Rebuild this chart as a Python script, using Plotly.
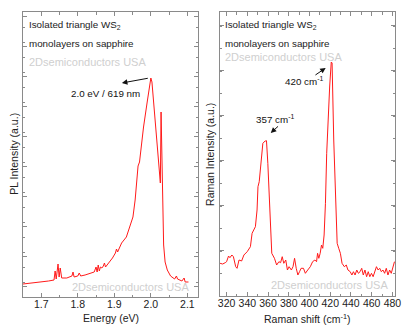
import plotly.graph_objects as go

# ---------------- data ----------------
pl_energy = [1.650, 1.680, 1.700, 1.720, 1.735, 1.738, 1.741, 1.746, 1.749, 1.752, 1.756,
             1.770, 1.784, 1.787, 1.790, 1.800, 1.804, 1.808, 1.820, 1.835, 1.845, 1.850,
             1.853, 1.856, 1.859, 1.862, 1.866, 1.870, 1.873, 1.876, 1.885, 1.895, 1.903,
             1.906, 1.909, 1.920, 1.933, 1.945, 1.951, 1.957, 1.962, 1.965, 1.969, 1.975,
             1.980, 1.990, 1.996, 2.000, 2.003, 2.008, 2.014, 2.020, 2.024, 2.026, 2.028,
             2.030, 2.032, 2.035, 2.039, 2.045, 2.054, 2.065, 2.070, 2.073, 2.085, 2.091,
             2.094, 2.103]
pl_intensity = [13, 14, 15, 16, 17, 26, 18, 33, 20, 29, 19,
                19, 21, 25, 20, 21, 24, 21, 22, 24, 25, 30,
                25, 32, 26, 30, 29, 31, 34, 30, 34, 39, 44,
                48, 45, 54, 60, 73, 80, 97, 120, 131, 135, 155,
                170, 195, 210, 219, 215, 192, 162, 135, 117, 114, 185,
                147, 82, 52, 35, 27, 21, 18, 21, 18, 16, 19,
                15, 15]

raman_shift = [313.7, 316.2, 318.7, 320.0, 321.9, 323.2, 325.1, 326.6, 328.8, 330.1, 332.0,
               334.5, 336.7, 339.9, 343.0, 344.6, 346.2, 347.8, 349.4, 350.3, 351.5, 353.4,
               355.0, 357.2, 358.5, 359.8, 361.0, 362.4, 363.6, 366.2, 368.3, 370.5, 372.1,
               373.7, 375.2, 377.1, 378.7, 380.3, 382.5, 384.1, 385.6, 387.2, 388.8, 390.4,
               391.9, 394.2, 396.0, 398.3, 400.8, 403.0, 405.2, 406.8, 407.8, 409.0, 410.3,
               411.6, 412.8, 414.1, 415.4, 416.6, 417.9, 419.5, 421.0, 421.8, 423.4, 425.1,
               426.7, 428.2, 429.8, 431.4, 433.6, 435.5, 437.1, 439.3, 440.9, 442.4, 444.0,
               445.6, 447.2, 448.8, 450.4, 451.9, 453.5, 455.1, 456.7, 458.2, 459.8, 461.4,
               463.0, 464.6, 466.2, 467.8, 469.3, 470.9, 472.5, 474.1, 475.7, 477.3, 478.9,
               480.4, 482.0]
raman_intensity = [32.7, 32, 33.3, 34.3, 40, 38.3, 41, 39.3, 29.3, 27.7, 36,
                   35, 41, 44.3, 49.3, 62.7, 66, 69.3, 86, 109.3, 114.3, 136,
                   152.7, 155, 155.3, 132.7, 99.3, 62.7, 42.7, 37.7, 31, 34.3, 33.3,
                   39.3, 32.7, 36, 26, 29.3, 26, 29.3, 37.7, 27.7, 21, 24.3,
                   27.7, 27.7, 22.7, 26, 29.3, 34.3, 36, 34.3, 42.7, 37.7, 42.7,
                   51, 47.7, 61, 92.7, 142.7, 176, 210, 234, 233, 156, 92.7,
                   52.7, 47.7, 42.7, 32.7, 29.3, 31, 26, 24.3, 21, 24.3, 21,
                   26, 22.7, 24.3, 27.7, 21, 26, 19.3, 24.3, 19.3, 22.7, 19.3,
                   24.3, 29.3, 26, 27.7, 24.3, 26, 22.7, 27.7, 21, 26, 22.7,
                   27.7, 34.3]

pl_ticks = [1.7, 1.8, 1.9, 2.0, 2.1]
raman_ticks = [320, 340, 360, 380, 400, 420, 440, 460, 480]

# ---------------- figure ----------------
FONT = "Liberation Sans, Arial, sans-serif"
AXC = "#8a8a8a"
W, H = 417, 331

fig = go.Figure()
fig.add_trace(go.Scatter(x=pl_energy, y=pl_intensity, mode="lines",
                         line=dict(color="#ff1a1a", width=1), xaxis="x", yaxis="y",
                         showlegend=False, hoverinfo="skip"))
fig.add_trace(go.Scatter(x=raman_shift, y=raman_intensity, mode="lines",
                         line=dict(color="#ff1a1a", width=1), xaxis="x2", yaxis="y2",
                         showlegend=False, hoverinfo="skip"))

ydom = [1 - 297 / H, 1 - 12 / H]
common_axis = dict(showline=True, linecolor=AXC, linewidth=1, mirror="ticks",
                   ticks="inside", ticklen=4, tickcolor=AXC, showgrid=False,
                   zeroline=False, fixedrange=True)

fig.update_layout(
    width=W, height=H,
    margin=dict(l=0, r=0, t=0, b=0),
    paper_bgcolor="white", plot_bgcolor="white",
    font=dict(family=FONT, color="#222222", size=10.5),
    xaxis=dict(domain=[21 / W, 200 / W], range=[1.649, 2.1295], tickvals=pl_ticks,
               ticktext=[f"{v:.1f}" for v in pl_ticks], ticklabelstandoff=-3,
               minor=dict(dtick=0.05, tick0=1.65, ticks="inside", ticklen=2.5, tickcolor=AXC),
               tickfont=dict(size=10.5, color="#222"), anchor="y", **common_axis),
    yaxis=dict(domain=ydom, range=[0, 285], showticklabels=False, tick0=11, dtick=30,
               minor=dict(dtick=15, ticks="inside", ticklen=2.5, tickcolor=AXC),
               anchor="x", **common_axis),
    xaxis2=dict(domain=[222 / W, 401 / W], range=[313.4, 482.8], tickvals=raman_ticks,
                ticklabelstandoff=-3,
                minor=dict(dtick=10, tick0=310, ticks="inside", ticklen=2.5, tickcolor=AXC),
                tickfont=dict(size=10.5, color="#222"), anchor="y2", **common_axis),
    yaxis2=dict(domain=[1 - 296 / H, 1 - 12 / H], range=[0, 284], showticklabels=False,
                tick0=1, dtick=45,
                minor=dict(dtick=22.5, ticks="inside", ticklen=2.5, tickcolor=AXC),
                anchor="x2", **common_axis),
)

def px_ann(text, x, y, size=10, color="#222222", xanchor="left", angle=0):
    fig.add_annotation(text=text, x=x / W, y=1 - y / H, xref="paper", yref="paper",
                       xanchor=xanchor, yanchor="middle", showarrow=False,
                       textangle=angle, font=dict(family=FONT, size=size, color=color))

WM = "#cfcfcf"
# left panel texts
px_ann("Isolated triangle WS<sub>2</sub>", 25, 25, size=9.8)
px_ann("monolayers on sapphire", 25, 43, size=9.8)
px_ann("2Dsemiconductors USA", 25, 62, size=11, color=WM)
px_ann("2Dsemiconductors USA", 69, 287, size=11, color=WM)
# right panel texts
px_ann("Isolated triangle WS<sub>2</sub>", 225, 25, size=9.8)
px_ann("monolayers on sapphire", 225, 43, size=9.8)
px_ann("2Dsemiconductors USA", 225, 57, size=11, color=WM)
px_ann("2Dsemiconductors USA", 272, 285, size=11, color=WM)
# axis titles
px_ann("Energy (eV)", 111, 318, size=10.5, xanchor="center")
px_ann("Raman shift (cm<sup>-1</sup>)", 311, 318, size=10.5, xanchor="center")
px_ann("PL Intensity (a.u.)", 12, 154, size=10.5, xanchor="center", angle=-90)
px_ann("Raman Intensity (a.u.)", 212, 154, size=10.5, xanchor="center", angle=-90)

# peak labels (data coordinates)
fig.add_annotation(text="2.0 eV / 619 nm", x=1.877, y=204, xref="x", yref="y",
                   showarrow=False, font=dict(family=FONT, size=9.8, color="#111"))
fig.add_annotation(text="420 cm<sup>-1</sup>", x=394.8, y=215, xref="x2", yref="y2",
                   showarrow=False, font=dict(family=FONT, size=9.8, color="#111"))
fig.add_annotation(text="357 cm<sup>-1</sup>", x=366.4, y=177, xref="x2", yref="y2",
                   showarrow=False, font=dict(family=FONT, size=9.8, color="#111"))

# arrows
arrow = dict(showarrow=True, arrowhead=2, arrowsize=1.1, arrowwidth=1,
             arrowcolor="#111", text="")
fig.add_annotation(x=1.9208, y=214, ax=1.9958, ay=219, xref="x", yref="y",
                   axref="x", ayref="y", **arrow)
fig.add_annotation(x=415.6, y=228, ax=404.3, ay=220, xref="x2", yref="y2",
                   axref="x2", ayref="y2", **arrow)
fig.add_annotation(x=362.6, y=163, ax=371.1, ay=171, xref="x2", yref="y2",
                   axref="x2", ayref="y2", **arrow)

fig.write_html("out.html")
